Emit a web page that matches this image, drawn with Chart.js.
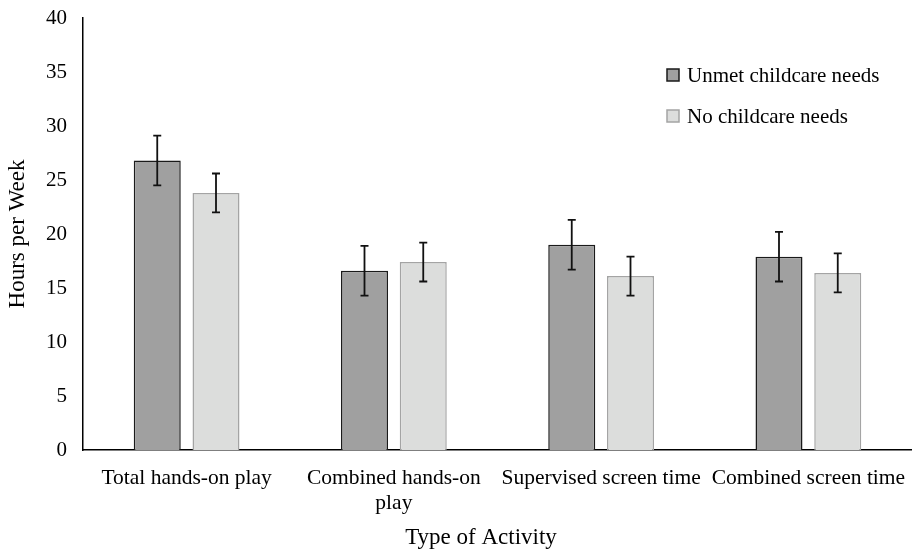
<!DOCTYPE html>
<html>
<head>
<meta charset="utf-8">
<script src="https://cdn.jsdelivr.net/npm/chart.js@4.4.0/dist/chart.umd.min.js"></script>
<style>
  body { margin: 0; background: #fff; }
  #wrap { width: 912px; height: 552px; position: relative; }
</style>
</head>
<body>
<div id="wrap"><canvas id="barChart"></canvas></div>
<script>
// data
var categories = ['Total hands-on play', ['Combined hands-on', 'play'], 'Supervised screen time', 'Combined screen time'];
var unmetNeeds = [26.8, 16.6, 19.0, 17.9];
var unmetErr = [2.3, 2.3, 2.3, 2.3];
var noNeeds = [23.8, 17.4, 16.1, 16.4];
var noErr = [1.8, 1.8, 1.8, 1.8];
var yTicks = [0, 5, 10, 15, 20, 25, 30, 35, 40];
var xTitle = 'Type of Activity';
var yTitle = 'Hours per Week';

var FONT = 'Liberation Serif';

// error bars, drawn from the same scale as the bars
var errorBars = {
    id: 'errorBars',
    afterDatasetsDraw: function(chart) {
        var ctx = chart.ctx;
        var yScale = chart.scales.y;
        ctx.save();
        ctx.strokeStyle = '#111';
        ctx.lineWidth = 1.8;
        chart.data.datasets.forEach(function(ds, i) {
            var meta = chart.getDatasetMeta(i);
            meta.data.forEach(function(bar, j) {
                var v = ds.data[j], e = ds.errors[j];
                var yHi = yScale.getPixelForValue(v + e);
                var yLo = yScale.getPixelForValue(v - e);
                ctx.beginPath();
                ctx.moveTo(bar.x, yHi); ctx.lineTo(bar.x, yLo);
                ctx.moveTo(bar.x - 4, yHi); ctx.lineTo(bar.x + 4, yHi);
                ctx.moveTo(bar.x - 4, yLo); ctx.lineTo(bar.x + 4, yLo);
                ctx.stroke();
            });
        });
        ctx.restore();
    }
};

// legend inside the plot (top right) and the x title, which sits a bit left of centre
var extraText = {
    id: 'extraText',
    afterDraw: function(chart) {
        var ctx = chart.ctx;
        var x = chart.chartArea.right - 245;
        var y = chart.chartArea.top + 57;
        ctx.save();
        ctx.font = '21px "' + FONT + '"';
        ctx.textBaseline = 'middle';
        chart.data.datasets.forEach(function(ds, i) {
            var yy = y + i * 41;
            ctx.fillStyle = ds.backgroundColor;
            ctx.fillRect(x, yy - 6, 12, 12);
            ctx.strokeStyle = ds.borderColor;
            ctx.lineWidth = 1.5;
            ctx.strokeRect(x, yy - 6, 12, 12);
            ctx.fillStyle = '#000';
            ctx.fillText(ds.label, x + 20, yy + 1);
        });
        ctx.font = '23px "' + FONT + '"';
        ctx.textAlign = 'center';
        ctx.fillText(xTitle, chart.width / 2 + 25, chart.height - 14);
        ctx.restore();
    }
};

new Chart(document.getElementById('barChart'), {
    type: 'bar',
    data: {
        labels: categories,
        datasets: [
            {
                label: 'Unmet childcare needs',
                data: unmetNeeds,
                errors: unmetErr,
                backgroundColor: '#a0a0a0',
                borderColor: '#1a1a1a',
                borderWidth: 1.5
            },
            {
                label: 'No childcare needs',
                data: noNeeds,
                errors: noErr,
                backgroundColor: '#dcdddc',
                borderColor: '#a4a4a4',
                borderWidth: 1.5
            }
        ]
    },
    options: {
        responsive: true,
        maintainAspectRatio: false,
        animation: false,
        layout: { padding: { top: 18, right: 0, left: 0, bottom: 0 } },
        plugins: {
            legend: { display: false },
            tooltip: { enabled: false }
        },
        datasets: {
            bar: { barPercentage: 0.8, categoryPercentage: 0.567 }
        },
        scales: {
            x: {
                grid: { display: false, drawTicks: false },
                border: { display: true, color: '#000', width: 1.5 },
                ticks: {
                    color: '#000',
                    font: { family: FONT, size: 21.5 },
                    padding: 15,
                    maxRotation: 0,
                    autoSkip: false
                },
                title: { display: false },
                afterFit: function(scale) {
                    scale.height = 102;
                    scale.paddingLeft = 0;
                    scale.paddingRight = 0;
                }
            },
            y: {
                min: 0,
                max: 40,
                grid: { display: false, drawTicks: false },
                border: { display: true, color: '#000', width: 1.5 },
                afterBuildTicks: function(scale) {
                    scale.ticks = yTicks.map(function(v) { return { value: v }; });
                },
                ticks: {
                    color: '#000',
                    font: { family: FONT, size: 21 },
                    padding: 16
                },
                title: {
                    display: true,
                    text: yTitle,
                    color: '#000',
                    font: { family: FONT, size: 23 },
                    padding: { top: 4, bottom: 0 }
                },
                afterFit: function(scale) {
                    scale.width = 83;
                    scale.paddingTop = 0;
                    scale.paddingBottom = 0;
                }
            }
        }
    },
    plugins: [errorBars, extraText]
});
</script>
</body>
</html>
